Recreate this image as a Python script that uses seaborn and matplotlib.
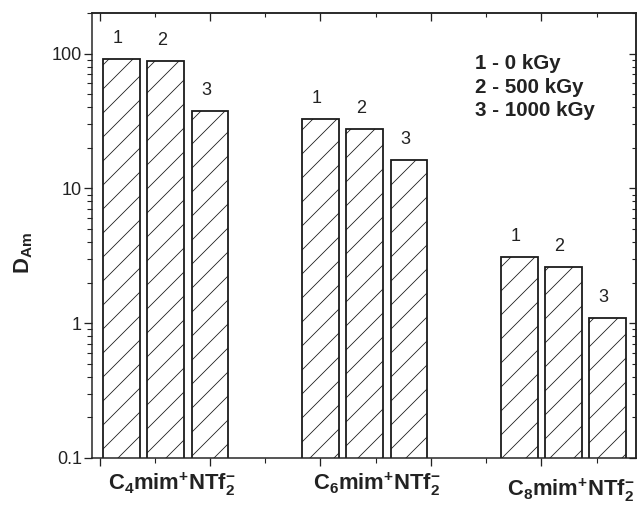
import numpy as np
import pandas as pd
import matplotlib
matplotlib.use('Agg')
import matplotlib.pyplot as plt
from matplotlib import ticker
import seaborn as sns

# values
cations = [r'$C_4mim^{+}NTf_2^{-}$', r'$C_6mim^{+}NTf_2^{-}$',
           r'$C_8mim^{+}NTf_2^{-}$']
doses = ['1 - 0 kGy', '2 - 500 kGy', '3 - 1000 kGy']
d_am_0kgy = [91.8, 32.9, 3.10]
d_am_500kgy = [87.7, 27.4, 2.61]
d_am_1000kgy = [37.5, 16.2, 1.10]

sns.set_theme(style='ticks')
plt.rcParams['font.family'] = ['Liberation Sans', 'DejaVu Sans']
plt.rcParams['mathtext.fontset'] = 'custom'
plt.rcParams['mathtext.rm'] = 'Liberation Sans:bold'
plt.rcParams['mathtext.bf'] = 'Liberation Sans:bold'
plt.rcParams['mathtext.it'] = 'Liberation Sans:bold'
plt.rcParams['mathtext.default'] = 'bf'
plt.rcParams['hatch.linewidth'] = 0.8

# bars sit one unit apart inside a group, groups 4.5 units apart
group_step = 4.5
rows = []
for g, cat in enumerate(cations):
    for d, vals in enumerate([d_am_0kgy, d_am_500kgy, d_am_1000kgy]):
        rows.append({'pos': 1 + group_step * g + d, 'cation': cat,
                     'dose': d + 1, 'D': vals[g]})
df = pd.DataFrame(rows)

fig = plt.figure(figsize=(638 / 72, 506 / 72), dpi=72)
ax = fig.add_axes([92 / 638, 48 / 506, 544 / 638, 445 / 506])
ax.set_yscale('log')

sns.barplot(data=df, x='pos', y='D', native_scale=True, width=0.83,
            color='white', edgecolor='#1a1a1a', linewidth=1.8, hatch='/',
            errorbar=None, saturation=1, ax=ax)
for p in ax.patches:
    p.set_facecolor('white')
    p.set_edgecolor('#1a1a1a')

ax.set_ylim(0.1, 200)
ax.set_xlim(0.33, 12.64)

# number above each bar
for _, r in df.iterrows():
    ax.annotate(str(r['dose']), xy=(r['pos'], r['D']), xytext=(-4, 16),
                textcoords='offset points', ha='center', va='baseline',
                fontsize=18, color='#222222')

# cation names under each group
label_dx = [6, 12, 7]
label_dy = [-13, -13, -18]
for g, cat in enumerate(cations):
    center = df.loc[df['cation'] == cat, 'pos'].mean()
    ax.annotate(cat, xy=(center, 0), xycoords=('data', 'axes fraction'),
                xytext=(label_dx[g], label_dy[g]), textcoords='offset points',
                ha='center', va='top', fontsize=22, color='#222222',
                annotation_clip=False)

# dose legend as plain text
for i, txt in enumerate(doses):
    ax.text(0.704, 0.874 - i * 0.0528, txt, transform=ax.transAxes,
            fontsize=20.5, fontweight='bold', color='#222222',
            ha='left', va='baseline')

ax.set_ylabel(r'$D_{Am}$', fontsize=22, color='#222222')
ax.yaxis.set_label_coords(-0.105, 0.46)
ax.set_xlabel('')

ax.set_yticks([0.1, 1, 10, 100])
ax.yaxis.set_major_formatter(ticker.FuncFormatter(lambda v, _: f'{v:g}'))
ax.set_xticks(np.arange(0.5, 12.6, 2.5))
ax.set_xticks(np.arange(1.75, 12.6, 2.5), minor=True)
ax.set_xticklabels([])
ax.tick_params(axis='both', which='major', direction='out', length=8,
               width=1.3, color='#222222', labelsize=18, labelcolor='#222222',
               pad=2)
ax.tick_params(axis='both', which='minor', direction='out', length=5,
               width=1.1, color='#222222')

# inward ticks on top and right
top = ax.secondary_xaxis('top')
top.set_xticks(np.arange(0.5, 12.6, 2.5))
top.set_xticks(np.arange(1.75, 12.6, 2.5), minor=True)
top.set_xticklabels([])
top.tick_params(which='major', direction='in', length=8, width=1.3,
                color='#222222')
top.tick_params(which='minor', direction='in', length=4, width=1.1,
                color='#222222')
right = ax.secondary_yaxis('right')
right.set_yticks([0.1, 1, 10, 100])
right.yaxis.set_major_formatter(ticker.NullFormatter())
right.yaxis.set_minor_formatter(ticker.NullFormatter())
right.tick_params(which='major', direction='in', length=7, width=1.3,
                  color='#222222')
right.tick_params(which='minor', direction='in', length=4, width=1.1,
                  color='#222222')

for a in (ax, top, right):
    for s in a.spines.values():
        s.set_linewidth(1.5)
        s.set_color('#222222')
for s in ax.spines.values():
    s.set_visible(True)

fig.savefig('out.png', dpi=72, facecolor='white')
